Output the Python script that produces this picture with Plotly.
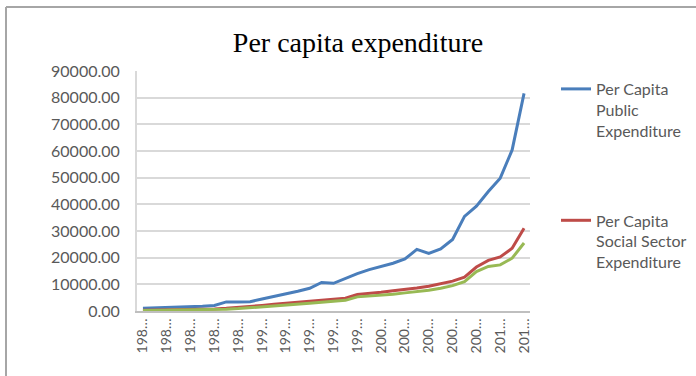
import plotly.graph_objects as go

# Fiscal years 1980-81 .. 2012-13
years = [f"{y}-{str(y + 1)[-2:]}" for y in range(1980, 2013)]

public_exp = [1000, 1100, 1250, 1400, 1550, 1750, 2100, 3400, 3400, 3500,
              4500, 5400, 6400, 7400, 8500, 10700, 10400, 12300, 14000, 15500,
              16700, 17900, 19500, 23100, 21600, 23300, 26800, 35500, 39300, 44800,
              49800, 60400, 81600]

social_exp = [300, 350, 400, 450, 550, 650, 750, 1000, 1300, 1700,
              2100, 2500, 2900, 3200, 3600, 4000, 4400, 4800, 6200, 6500,
              7000, 7600, 8000, 8600, 9300, 10200, 11200, 12700, 16500, 19000,
              20300, 23500, 31000]

third_exp = [200, 250, 300, 350, 400, 500, 600, 700, 900, 1200,
             1500, 1900, 2200, 2600, 2900, 3300, 3700, 4000, 5300, 5600,
             6000, 6300, 6800, 7200, 7800, 8500, 9500, 11000, 14800, 16700,
             17300, 19800, 25500]

y_ticks = [0, 10000, 20000, 30000, 40000, 50000, 60000, 70000, 80000, 90000]
x_tickvals = years[::2]
x_ticktext = [y[:3] + "\u2026" for y in x_tickvals]

W, H = 696, 376
L, R, T, B = 137, 530, 71, 311

def px_x(px):
    return (px - L) / (R - L)

def px_y(py):
    return (B - py) / (B - T)

fig = go.Figure()
fig.add_trace(go.Scatter(
    x=years, y=public_exp, mode="lines",
    name="Per Capita<br>Public<br>Expenditure",
    line=dict(color="#4A7EBB", width=3),
    legendgroup="a"))
fig.add_trace(go.Scatter(
    x=years, y=social_exp, mode="lines",
    name="Per Capita<br>Social Sector<br>Expenditure",
    line=dict(color="#BE4B48", width=3),
    legendgroup="b"))
fig.add_trace(go.Scatter(
    x=years, y=third_exp, mode="lines",
    name="",
    line=dict(color="#98B954", width=3),
    showlegend=False))

fig.update_layout(
    width=W, height=H,
    margin=dict(l=L, r=W - R, t=T, b=H - B, autoexpand=False),
    paper_bgcolor="white", plot_bgcolor="white",
    title=dict(text="Per capita expenditure",
               font=dict(family="Liberation Serif", size=28, color="black"),
               x=358 / W, xanchor="center", xref="container",
               y=1 - 42 / H, yanchor="middle", yref="container"),
    xaxis=dict(type="category", categoryorder="array", categoryarray=years,
               tickvals=x_tickvals, ticktext=x_ticktext, tickangle=-90,
               tickfont=dict(family="Lato", size=14, color="#595959"),
               showgrid=False, showline=True, linecolor="#BFBFBF", linewidth=2,
               ticks="", range=[-0.5, len(years) - 0.5], zeroline=False),
    yaxis=dict(range=[0, 90000], tickvals=y_ticks,
               ticktext=[f"{v:.2f}" for v in y_ticks],
               tickfont=dict(family="Lato", size=16, color="#595959"),
               ticklabelstandoff=12,
               showgrid=True, gridcolor="#D9D9D9", gridwidth=2,
               showline=True, linecolor="#D9D9D9", linewidth=2,
               ticks="", zeroline=False),
    legend=dict(x=px_x(556), y=px_y(72), xanchor="left", yanchor="top",
                font=dict(family="Lato", size=16, color="#595959"),
                valign="top", tracegroupgap=66, bgcolor="rgba(0,0,0,0)"),
    shapes=[
        dict(type="line", xref="paper", yref="paper",
             x0=px_x(6), x1=px_x(W + 5), y0=px_y(7), y1=px_y(7),
             line=dict(color="#A6A6A6", width=2)),
        dict(type="line", xref="paper", yref="paper",
             x0=px_x(6), x1=px_x(6), y0=px_y(7), y1=px_y(H + 5),
             line=dict(color="#A6A6A6", width=2)),
    ],
)

fig.write_html("out.html")
